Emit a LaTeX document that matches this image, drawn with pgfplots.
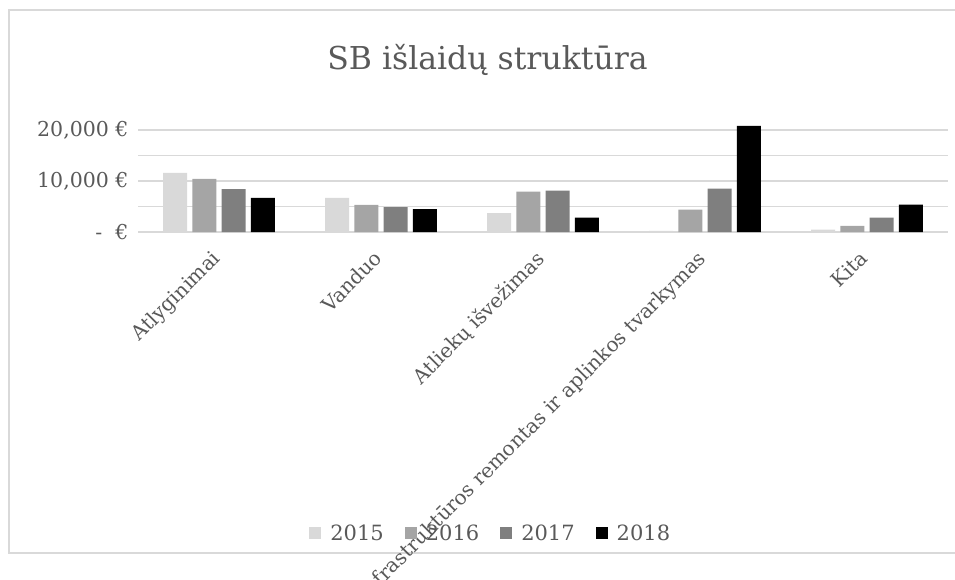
\documentclass[border=0pt]{standalone}
\usepackage{pgfplots}
\pgfplotsset{compat=1.18}
\usepackage{fontspec}
\setmainfont{DejaVu Serif}

\definecolor{txtgray}{HTML}{595959}
\definecolor{gridgray}{HTML}{D9D9D9}
\definecolor{c2015}{HTML}{D9D9D9}
\definecolor{c2016}{HTML}{A5A5A5}
\definecolor{c2017}{HTML}{7F7F7F}
\definecolor{c2018}{HTML}{000000}

\begin{document}
\begin{tikzpicture}
% page = 955 x 579 (1px = 1pt)
\path[use as bounding box] (0pt,0pt) rectangle (955pt,-579pt);
\draw[gridgray, line width=1.3pt] (9pt,-10pt) rectangle (970pt,-553pt);

\begin{axis}[
  at={(138pt,-232pt)}, anchor=south west,
  scale only axis,
  width=810pt, height=107.1pt,
  ybar=5.3pt, bar width=24pt,
  xmin=-0.5, xmax=4.5,
  ymin=0, ymax=21000,
  clip=false,
  axis line style={draw=none},
  tick style={draw=none},
  scaled y ticks=false,
  xtick=data,
  xticklabels={Atlyginimai, Vanduo, Atliekų išvežimas,
    Infrastruktūros remontas ir aplinkos tvarkymas, Kita},
  xticklabel style={rotate=45, anchor=north east, font=\fontsize{20}{23}\selectfont,
    text=txtgray, inner sep=1pt, xshift=-14pt, yshift=-2pt},
  ytick={0,5000,10000,15000,20000},
  yticklabels={-\ \ €, , {10,000 €}, , {20,000 €}},
  yticklabel style={font=\fontsize{20.5}{24}\selectfont, text=txtgray, xshift=-6pt},
  ymajorgrids,
  grid style={gridgray, line width=1.3pt},
  title={SB išlaidų struktūra},
  title style={at={(0.4315,1.547)}, anchor=center,
    font=\fontsize{31.5}{36}\selectfont, text=txtgray},
  legend columns=4,
  legend style={at={(0.4355,-2.81)}, anchor=center, draw=none, fill=none,
    font=\fontsize{21}{24}\selectfont, text=txtgray,
    /tikz/every odd column/.append style={column sep=7pt},
    /tikz/every even column/.append style={column sep=19pt}},
  legend image code/.code={\fill[#1,draw=none] (0pt,-6pt) rectangle (12pt,6pt);},
]
\addplot[fill=c2015, draw=none] coordinates {(0,11600) (1,6700) (2,3700) (3,200) (4,450)};
\addlegendentry{2015}
\addplot[fill=c2016, draw=none] coordinates {(0,10400) (1,5300) (2,7900) (3,4400) (4,1200)};
\addlegendentry{2016}
\addplot[fill=c2017, draw=none] coordinates {(0,8400) (1,4900) (2,8100) (3,8500) (4,2800)};
\addlegendentry{2017}
\addplot[fill=c2018, draw=none] coordinates {(0,6700) (1,4500) (2,2800) (3,20800) (4,5350)};
\addlegendentry{2018}
\end{axis}
\end{tikzpicture}
\end{document}
